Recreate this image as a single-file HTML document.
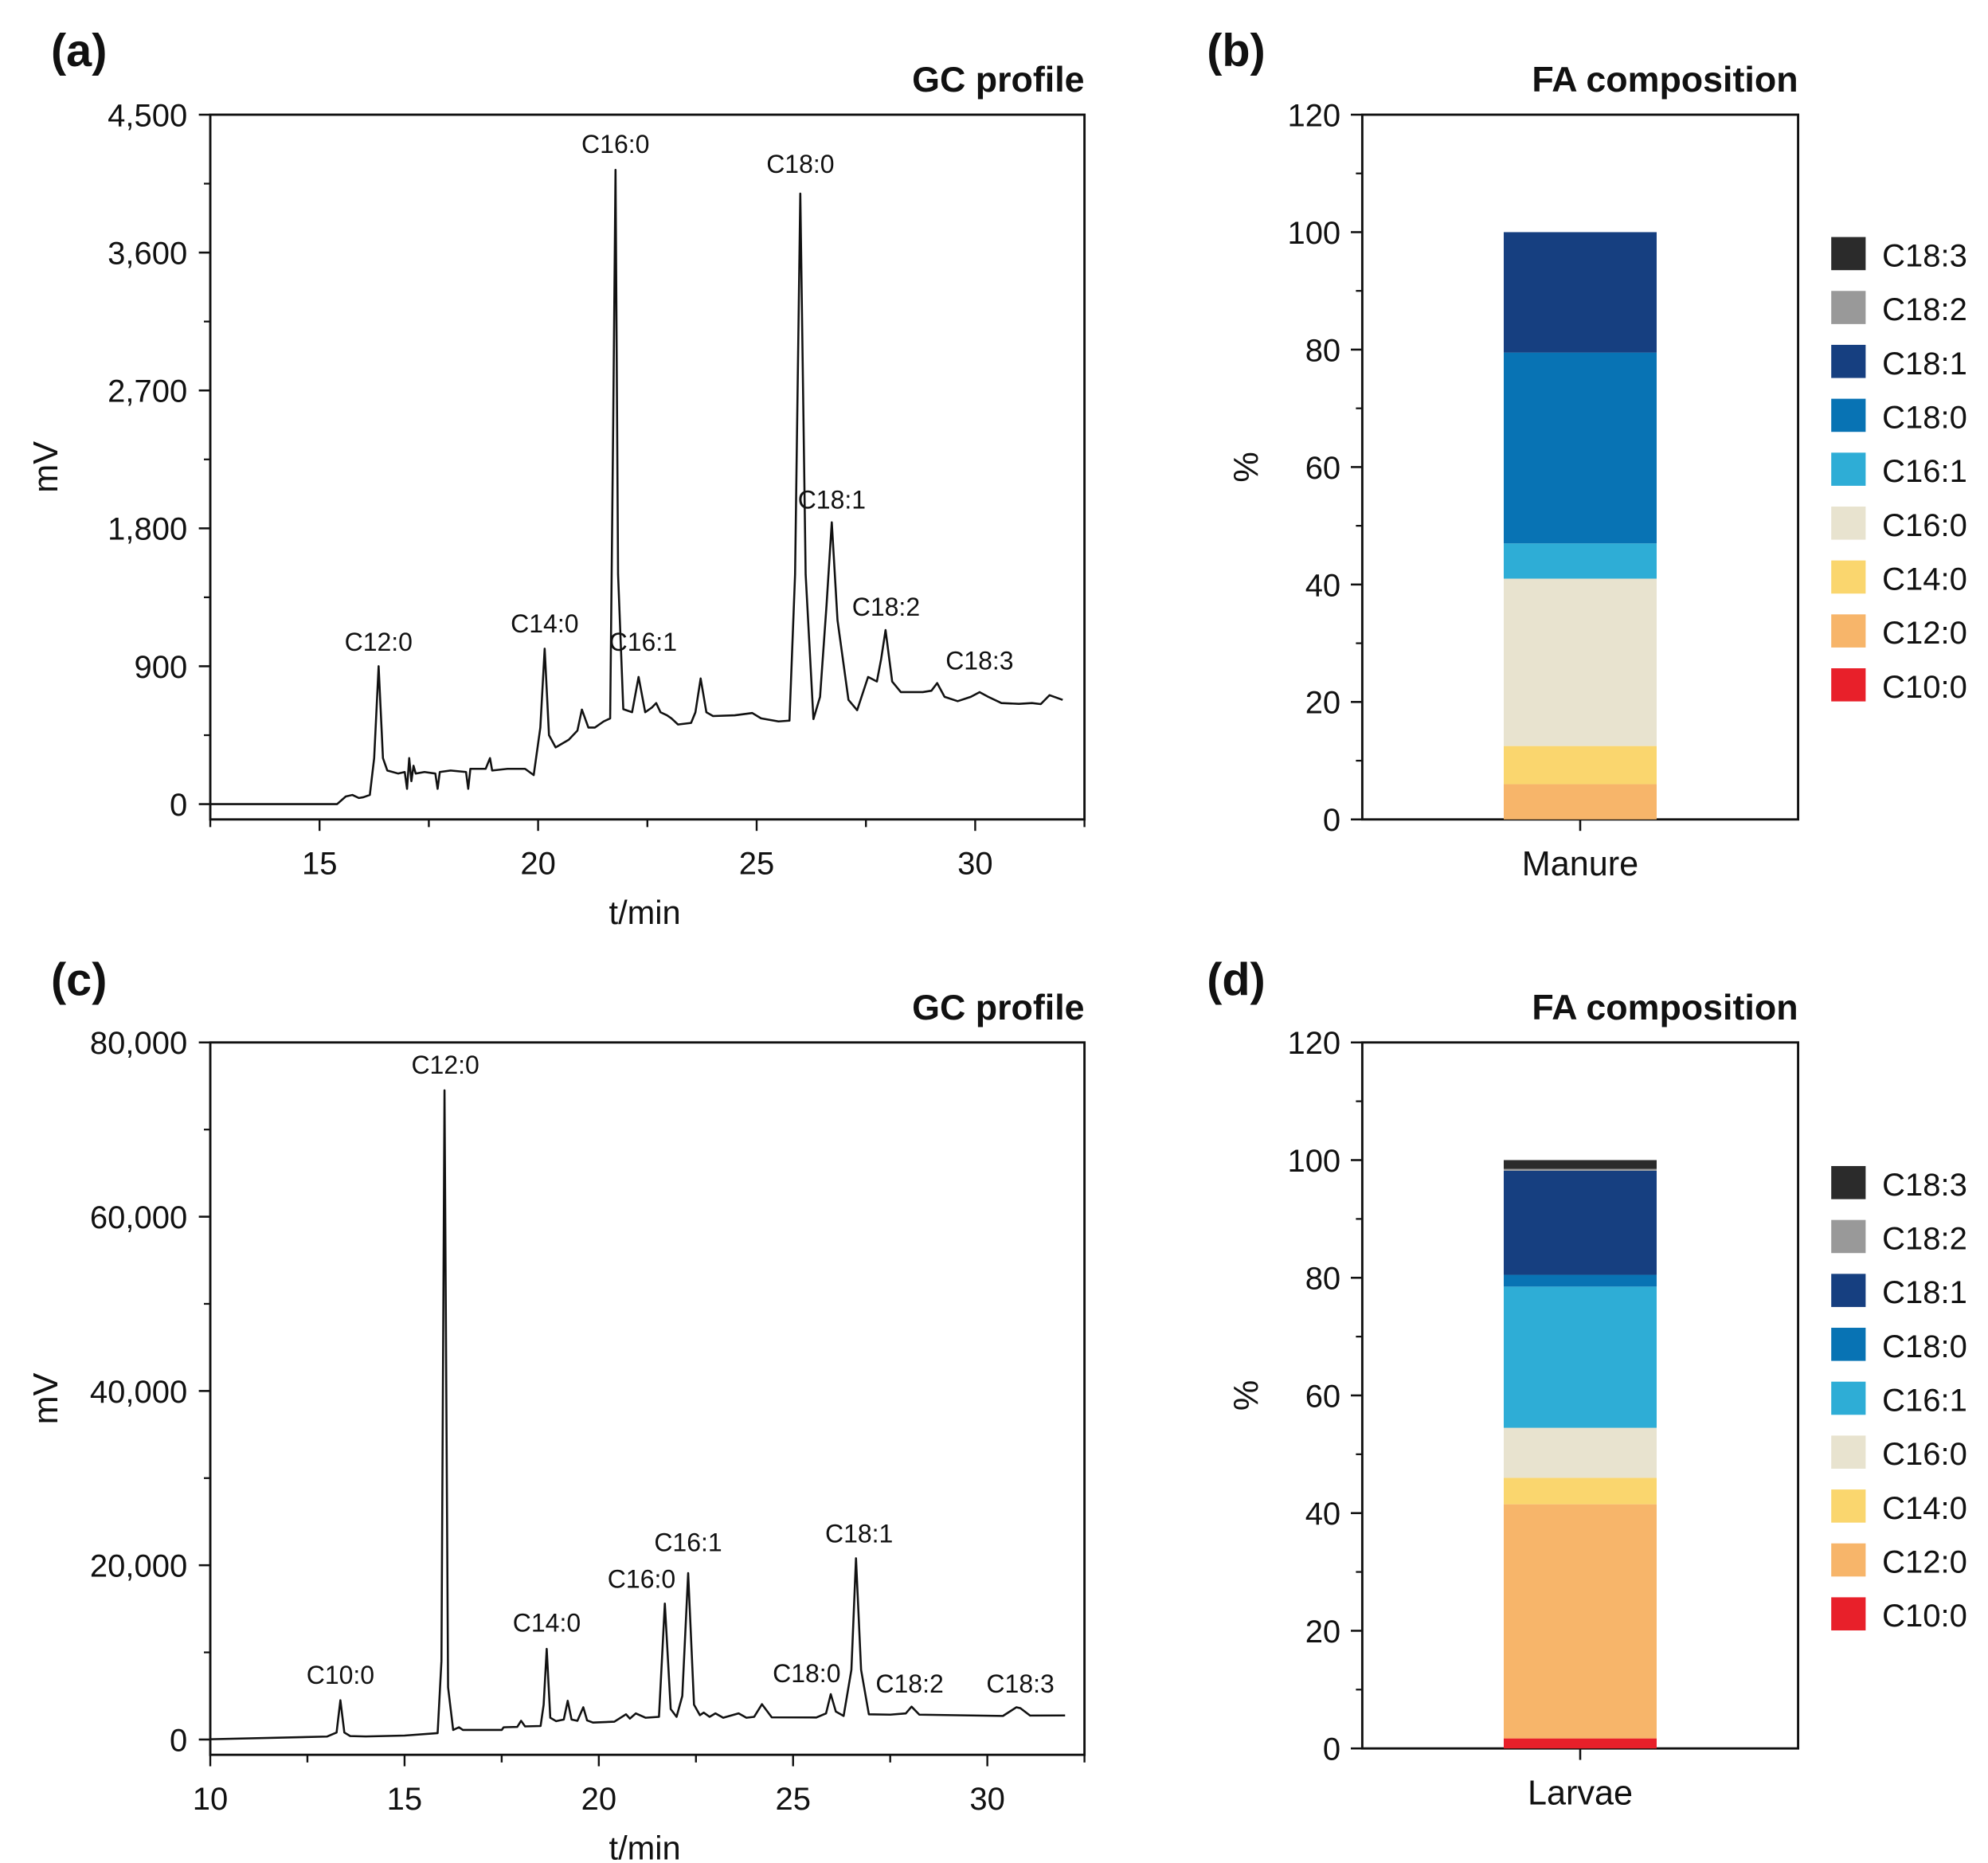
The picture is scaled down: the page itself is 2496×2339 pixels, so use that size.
<!DOCTYPE html>
<html><head><meta charset="utf-8">
<style>
html,body{margin:0;padding:0;background:#fff;}
svg{display:block;font-family:"Liberation Sans",sans-serif;}
</style></head>
<body>
<svg id="fig" width="2496" height="2339" viewBox="0 0 1560 1461.9" xmlns="http://www.w3.org/2000/svg"></svg>
<script>
// ---------- Data ----------
// Panel (a) chromatogram: time (min) and signal (mV)
const aTimes = [12.5,15.4,15.6,15.75,15.9,16.0,16.15,16.25,16.35,16.45,16.55,16.8,16.95,17.0,17.05,17.1,17.15,17.2,17.4,17.65,17.7,17.75,18.0,18.35,18.4,18.45,18.8,18.9,18.95,19.3,19.7,19.9,20.05,20.15,20.25,20.4,20.7,20.9,21.0,21.15,21.3,21.5,21.65,21.72,21.77,21.83,21.95,22.15,22.3,22.45,22.6,22.7,22.8,22.95,23.05,23.2,23.5,23.6,23.72,23.85,24.0,24.5,24.9,25.1,25.5,25.75,25.88,26.0,26.12,26.3,26.45,26.6,26.72,26.85,27.1,27.3,27.55,27.75,27.85,27.95,28.1,28.3,28.8,29.0,29.13,29.3,29.6,29.9,30.1,30.3,30.6,31.0,31.3,31.5,31.7,32.0];
const aSignal = [0,0,50,60,40,45,60,300,900,300,220,200,210,100,300,150,250,200,210,200,100,210,220,210,100,230,230,300,220,230,230,190,500,1015,450,370,420,480,617,500,500,540,560,2500,4140,1500,620,600,830,600,630,660,600,580,560,520,530,600,820,600,575,580,595,560,540,545,1500,3985,1500,555,700,1300,1839,1200,680,613,830,800,950,1136,800,731,731,740,790,700,672,700,731,700,660,655,660,653,711,680];
// Panel (c) chromatogram
const cTimes = [10,13.0,13.25,13.35,13.45,13.6,14.0,15.0,15.85,15.95,16.03,16.12,16.25,16.4,16.5,17.5,17.55,17.9,18.0,18.1,18.5,18.58,18.66,18.75,18.9,19.1,19.2,19.3,19.45,19.6,19.7,19.85,20.4,20.7,20.8,20.95,21.2,21.55,21.7,21.85,22.0,22.15,22.3,22.45,22.6,22.7,22.85,23.0,23.2,23.6,23.8,24.0,24.2,24.45,25.6,25.85,25.97,26.1,26.3,26.5,26.62,26.75,26.95,27.5,27.9,28.05,28.25,30.4,30.75,30.85,31.1,32.0];
const cSignal = [30,330,800,4500,800,400,350,450,730,9000,74500,6000,1100,1400,1100,1100,1400,1450,2150,1500,1550,4000,10400,2500,2100,2300,4450,2300,2150,3700,2200,1950,2050,2900,2400,3000,2500,2600,15600,3500,2600,5000,19100,4000,2800,3080,2600,3000,2500,3000,2500,2600,4050,2550,2530,3000,5200,3200,2700,8000,20800,8000,2900,2850,3000,3780,2850,2700,3700,3600,2750,2770];

const aPeakNames = ["C12:0","C14:0","C16:0","C16:1","C18:0","C18:1","C18:2","C18:3"];
const aPeakT = [16.35,20.15,21.77,22.4,26.0,26.72,27.96,30.1];
const aPeakV = [1000,1120,4250,1000,4120,1930,1230,880];
const cPeakNames = ["C10:0","C12:0","C14:0","C16:0","C16:1","C18:0","C18:1","C18:2","C18:3"];
const cPeakT = [13.35,16.05,18.66,21.1,22.3,25.35,26.7,28.0,30.85];
const cPeakV = [6400,76400,12400,17400,21600,6600,22600,5400,5400];

// Panel (b)/(d) stacked composition (%) in order C10:0 ... C18:3
const faNames = ["C10:0","C12:0","C14:0","C16:0","C16:1","C18:0","C18:1","C18:2","C18:3"];
const faColors = ["#e8202a","#f7b56a","#fad66e","#e8e3cf","#2eadd6","#0873b4","#163f80","#999999","#2b2b2b"];
const manureValues = [0,6,6.5,28.5,6,32.5,20.5,0,0];
const larvaeValues = [1.7,39.8,4.5,8.5,24,2,17.7,0.3,1.5];
const yTicksPct = [0,20,40,60,80,100,120];
const yTicksA = [0,900,1800,2700,3600,4500];
const yTicksC = [0,20000,40000,60000,80000];

// ---------- Drawing ----------
const NS = "http://www.w3.org/2000/svg";
const svg = document.getElementById("fig");
function el(tag, attrs, parent, text){
  const e = document.createElementNS(NS, tag);
  for (const k in attrs) e.setAttribute(k, attrs[k]);
  if (text !== undefined) e.textContent = text;
  (parent || svg).appendChild(e);
  return e;
}
function fmt(v){ return v.toLocaleString("en-US"); }

function text(x,y,str,size,opts,name){
  const t = el("text",Object.assign({x:x,y:y,"font-size":size,fill:"#111"},opts||{}),svg,str);
  
  
  return t;
}

function gcPanel(cfg){
  const g = el("g",{});
  
  
  const X = t => cfg.L + (t - cfg.xmin)/(cfg.xmax-cfg.xmin)*(cfg.R-cfg.L);
  const Y = v => cfg.y0 - (v - 0)/(cfg.ymax)*(cfg.y0-cfg.T);
  const fr = el("rect",{x:cfg.L,y:cfg.T,width:cfg.R-cfg.L,height:cfg.B-cfg.T,fill:"none",stroke:"#111","stroke-width":1.8},g);
  
  
  cfg.yTicks.forEach((v,i)=>{
    el("line",{x1:cfg.L-9,x2:cfg.L,y1:Y(v),y2:Y(v),stroke:"#111","stroke-width":1.6},g);
    if(i<cfg.yTicks.length-1){
      const m=(v+cfg.yTicks[i+1])/2;
      el("line",{x1:cfg.L-5,x2:cfg.L,y1:Y(m),y2:Y(m),stroke:"#111","stroke-width":1.4},g);
    }
    const t = el("text",{x:cfg.L-18,y:Y(v)+9,"font-size":25,"text-anchor":"end",fill:"#111"},g,fmt(v));
    
    
  });
  for(let t=Math.ceil(cfg.xmin/2.5)*2.5; t<=cfg.xmax+0.001; t+=2.5){
    const major = Math.abs(t%5)<0.001;
    el("line",{x1:X(t),x2:X(t),y1:cfg.B,y2:cfg.B+(major?9:6),stroke:"#111","stroke-width":1.5},g);
    if(major){
      const lab = el("text",{x:X(t),y:cfg.B+43,"font-size":25,"text-anchor":"middle",fill:"#111"},g,String(t));
      
      
    }
  }
  const pts = cfg.times.map((t,i)=>X(t).toFixed(1)+","+Y(cfg.sig[i]).toFixed(1)).join(" ");
  const pl = el("polyline",{points:pts,fill:"none",stroke:"#111","stroke-width":1.6,"stroke-linejoin":"round"},g);
  
  
  cfg.pNames.forEach((n,i)=>{
    const t = el("text",{x:X(cfg.pT[i]),y:Y(cfg.pV[i]),"font-size":20,"text-anchor":"middle",fill:"#111"},g,n);
    
    
  });
  const xt = el("text",{x:(cfg.L+cfg.R)/2-2,y:cfg.B+82,"font-size":26,"text-anchor":"middle",fill:"#111"},g,"t/min");
  
  
  const yt = el("text",{x:0,y:0,"font-size":27,"text-anchor":"middle",fill:"#111",transform:`translate(45,${(cfg.T+cfg.B)/2}) rotate(-90)`},g,"mV");
  
  
}

function barPanel(cfg){
  const g = el("g",{});
  
  
  const Y = v => cfg.B - v/120*(cfg.B-cfg.T);
  const fr = el("rect",{x:cfg.L,y:cfg.T,width:cfg.R-cfg.L,height:cfg.B-cfg.T,fill:"none",stroke:"#111","stroke-width":1.8},g);
  
  
  yTicksPct.forEach((v,i)=>{
    el("line",{x1:cfg.L-9,x2:cfg.L,y1:Y(v),y2:Y(v),stroke:"#111","stroke-width":1.6},g);
    if(i<yTicksPct.length-1){
      const m=(v+yTicksPct[i+1])/2;
      el("line",{x1:cfg.L-5,x2:cfg.L,y1:Y(m),y2:Y(m),stroke:"#111","stroke-width":1.4},g);
    }
    const t = el("text",{x:cfg.L-17,y:Y(v)+9,"font-size":25,"text-anchor":"end",fill:"#111"},g,String(v));
    
    
  });
  const cx = (cfg.L+cfg.R)/2;
  el("line",{x1:cx,x2:cx,y1:cfg.B,y2:cfg.B+9,stroke:"#111","stroke-width":1.6},g);
  let acc = 0;
  cfg.values.forEach((v,i)=>{
    if(v<=0) return;
    const r = el("rect",{x:cx-60,width:120,y:Y(acc+v),height:Y(acc)-Y(acc+v),fill:faColors[i]},g);
    
    
    acc += v;
  });
  const xl = el("text",{x:cx,y:cfg.B+44,"font-size":27,"text-anchor":"middle",fill:"#111"},g,cfg.cat);
  
  
  const yt = el("text",{x:0,y:0,"font-size":27,"text-anchor":"middle",fill:"#111",transform:`translate(987,${(cfg.T+cfg.B)/2}) rotate(-90)`},g,"%");
  
  
  for(let k=0;k<faNames.length;k++){
    const i = faNames.length-1-k;
    const y = cfg.legY + k*42.3;
    const sw = el("rect",{x:1437,y:y-13,width:27,height:26,fill:faColors[i]},g);
    
    
    const lt = el("text",{x:1477,y:y+10,"font-size":25,fill:"#111"},g,faNames[i]);
    
    
  }
}

gcPanel({name:"panel-a-gc-profile",L:165,R:851,T:90,B:643,y0:631,ymax:4500,xmin:12.5,xmax:32.5,
  yTicks:yTicksA,times:aTimes,sig:aSignal,pNames:aPeakNames,pT:aPeakT,pV:aPeakV});
gcPanel({name:"panel-c-gc-profile",L:165,R:851,T:818,B:1377,y0:1365,ymax:80000,xmin:10,xmax:32.5,
  yTicks:yTicksC,times:cTimes,sig:cSignal,pNames:cPeakNames,pT:cPeakT,pV:cPeakV});
barPanel({name:"panel-b-fa-composition",L:1069,R:1411,T:90,B:643,values:manureValues,cat:"Manure",legY:199});
barPanel({name:"panel-d-fa-composition",L:1069,R:1411,T:818,B:1372,values:larvaeValues,cat:"Larvae",legY:928});

text(40,52,"(a)",36,{"font-weight":"bold"},"panel-a-letter");
text(947,52,"(b)",36,{"font-weight":"bold"},"panel-b-letter");
text(40,781,"(c)",36,{"font-weight":"bold"},"panel-c-letter");
text(947,781,"(d)",36,{"font-weight":"bold"},"panel-d-letter");
text(851,72,"GC profile",28,{"font-weight":"bold","text-anchor":"end"},"panel-a-title");
text(851,800,"GC profile",28,{"font-weight":"bold","text-anchor":"end"},"panel-c-title");
text(1411,72,"FA composition",28,{"font-weight":"bold","text-anchor":"end"},"panel-b-title");
text(1411,800,"FA composition",28,{"font-weight":"bold","text-anchor":"end"},"panel-d-title");
</script>
</body></html>
